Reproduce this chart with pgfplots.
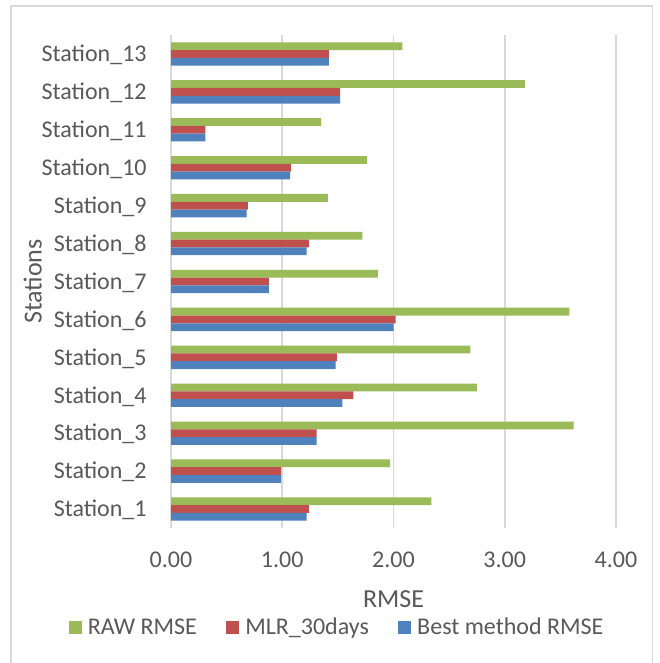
\documentclass[border=0pt]{standalone}
\usepackage{fontspec}
\setmainfont{Carlito}
\usepackage{pgfplots}
\pgfplotsset{compat=1.18}

\definecolor{rawgreen}{HTML}{9BBB59}
\definecolor{mlrred}{HTML}{C0504D}
\definecolor{bestblue}{HTML}{4F81BD}
\definecolor{gridgray}{HTML}{D9D9D9}
\definecolor{textgray}{HTML}{595959}

% RMSE per station (Station_1 ... Station_13)
\pgfplotstableread{
st  raw   mlr   best
1   2.34  1.24  1.22
2   1.97  0.99  0.99
3   3.62  1.31  1.31
4   2.75  1.64  1.54
5   2.69  1.49  1.48
6   3.58  2.02  2.00
7   1.86  0.88  0.88
8   1.72  1.24  1.22
9   1.41  0.69  0.68
10  1.76  1.08  1.07
11  1.35  0.31  0.31
12  3.18  1.52  1.52
13  2.08  1.42  1.42
}\rmsedata

\begin{document}
\begin{tikzpicture}
\fill[white] (0,0) rectangle (329.5pt,331.5pt);
\begin{axis}[
  at={(85.5pt,67.5pt)}, anchor=south west,
  scale only axis, width=222.5pt, height=246.5pt,
  xbar, bar width=3.89pt,
  xmin=0, xmax=4, ymin=0.5, ymax=13.5,
  xtick={0,1,2,3,4},
  ytick={1,...,13},
  yticklabels={Station\_1,Station\_2,Station\_3,Station\_4,Station\_5,Station\_6,Station\_7,Station\_8,Station\_9,Station\_10,Station\_11,Station\_12,Station\_13},
  xmajorgrids, grid style={draw=gridgray, line width=0.8pt},
  axis line style={draw=none},
  major tick length=0pt,
  /pgf/number format/.cd, fixed, fixed zerofill, precision=2, assume math mode=true,
  /pgfplots/.cd,
  tick label style={font=\fontsize{12}{14}\selectfont, text=textgray, inner sep=0pt},
  xticklabel style={anchor=base, yshift=-19.65pt},
  yticklabel style={anchor=base east, xshift=-12pt, yshift=-3.9pt},
  xlabel={RMSE}, ylabel={Stations},
  every axis x label/.style={at={(axis description cs:0.5,-0.1609)}, anchor=base, font=\fontsize{13}{15}\selectfont, text=textgray, inner sep=0pt},
  every axis y label/.style={at={(axis description cs:-0.2906,0.5)}, rotate=90, anchor=base, font=\fontsize{13}{15}\selectfont, text=textgray, inner sep=0pt},
  legend columns=3,
  legend image code/.code={\fill[#1] (0pt,0pt) rectangle (6.67pt,6.67pt);},
  legend style={at={(axis description cs:0.3708,-0.2016)}, anchor=center, draw=none, fill=none,
    font=\fontsize{12}{14}\selectfont, text=textgray,
    cells={anchor=base west}, nodes={inner sep=0pt},
    /tikz/every odd column/.append style={column sep=3pt},
    /tikz/every even column/.append style={column sep=14.5pt}},
]
\addplot[draw=none, fill=rawgreen, bar shift=3.89pt] table[x=raw, y=st] {\rmsedata};
\addplot[draw=none, fill=mlrred, bar shift=0pt] table[x=mlr, y=st] {\rmsedata};
\addplot[draw=none, fill=bestblue, bar shift=-3.89pt] table[x=best, y=st] {\rmsedata};
\legend{RAW RMSE, MLR\_30days, Best method RMSE}
\end{axis}
\draw[gridgray, line width=0.8pt] (5.4pt,-5pt) -- (5.4pt,328.6pt) -- (326.3pt,328.6pt) -- (326.3pt,-5pt);
\pgfresetboundingbox
\path[use as bounding box] (0,0) rectangle (329.5pt,331.5pt);
\end{tikzpicture}
\end{document}
